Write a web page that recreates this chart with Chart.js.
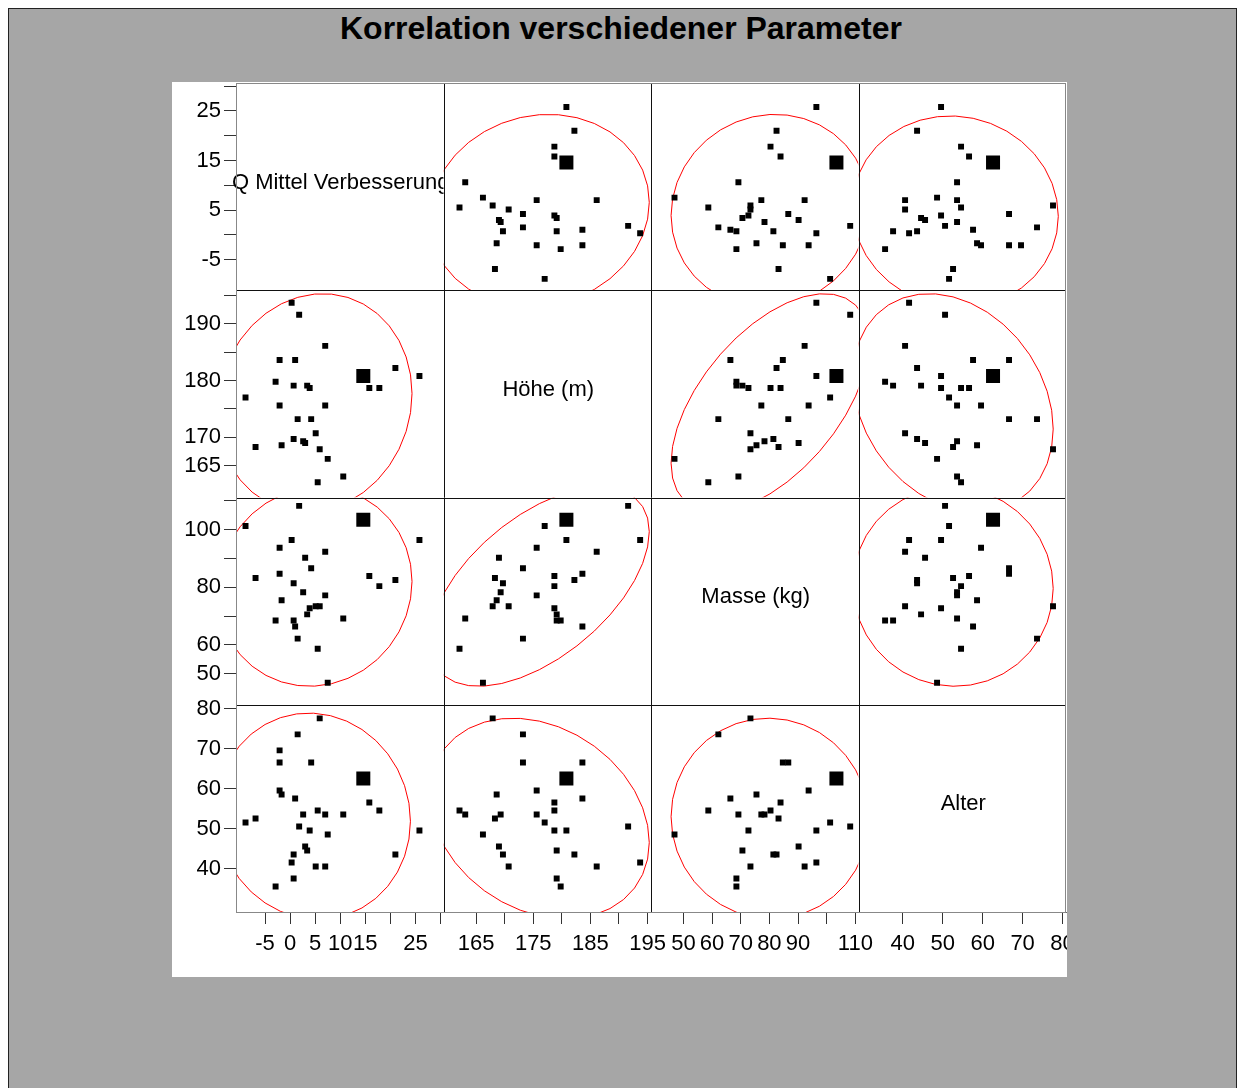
<!DOCTYPE html>
<html>
<head>
<meta charset="utf-8">
<title>Korrelation verschiedener Parameter</title>
<script src="https://cdn.jsdelivr.net/npm/chart.js@4.4.1/dist/chart.umd.min.js"></script>
<style>
  body { margin: 0; background: #fff; width: 1242px; height: 1088px; overflow: hidden; position: relative; }
  #frame { position: absolute; left: 8px; top: 8px; width: 1227px; height: 1100px; background: #a6a6a6;
           border-left: 1px solid #222; border-top: 1px solid #222; border-right: 1px solid #222; }
  #title { position: absolute; left: 0; top: 12px; width: 1242px; text-align: center;
           font: bold 32px "Liberation Sans", Arial, sans-serif; line-height: 32px; color: #000; }
  #plot { position: absolute; left: 172px; top: 82px; width: 895px; height: 895px; background: #fff; }
</style>
</head>
<body>
<div id="frame"></div>
<div id="title">Korrelation verschiedener Parameter</div>
<div id="plot"><canvas id="matrix" width="895" height="895"></canvas></div>
<script>
// variable names (diagonal)
const varNames = ["Q Mittel Verbesserung", "Höhe (m)", "Masse (kg)", "Alter"];

const qMittel = [5.9, 1.5, -2.1, -2.1, 4.2, 14.6, -2.1, -1.7, 1.0, 15.8, 17.8, 5.5, 2.6, 7.0, 10.6,
                 -6.9, -8.9, 1.8, 25.8, 3.9, 7.5, 3.0, 3.4, 0.7, 21.0, 0.3, 5.1, 7.0, 0.7, -2.9];
const hoehe = [167.9, 173.2, null, 183.6, 173.2, 180.8, 175.6, 168.6, 183.6, 178.7, 178.7, 162.1, 169.3, 175.6, 163.1,
               168.3, 177.0, 191.6, 180.8, 178.7, 166.2, 169.0, 179.1, 169.7, 182.2, 193.7, 170.7, 186.1, 179.1, 179.8];
const masse = [73.4, 62.2, null, 84.7, 86.6, 103.4, 93.7, 75.5, 66.4, 83.9, 80.4, 58.7, 78.3, 77.2, 69.2,
               83.2, 101.2, 108.2, 96.4, 72.7, 46.9, 90.2, 70.6, 81.4, 82.5, 96.4, 73.4, 92.3, 68.5, 68.5];
const alter = [77.6, 73.6, 69.6, 66.6, 66.6, 62.6, 59.6, 58.6, 57.6, 56.6, 54.6, 54.6, 53.6, 53.6, 53.6,
               52.6, 51.6, 50.6, 49.6, 49.6, 48.6, 45.6, 44.6, 43.6, 43.6, 41.6, 40.6, 40.6, 37.6, 35.6];
const highlightIndex = 5; // the large marker

// ticks
const qTicks = [-5, 0, 5, 10, 15, 20, 25, 30];
const qLabelsX = ["-5", "0", "5", "10", "15", "", "25", ""];
const qLabelsY = ["-5", "", "5", "", "15", "", "25", ""];
const hTicks = [165, 170, 175, 180, 185, 190, 195];
const hLabelsX = ["165", "", "175", "", "185", "", "195"];
const hLabelsY = ["165", "170", "", "180", "", "190", ""];
const mTicks = [50, 60, 70, 80, 90, 100, 110];
const mLabelsX = ["50", "60", "70", "80", "90", "", "110"];
const mLabelsY = ["50", "60", "", "80", "", "100", ""];
const aTicks = [40, 50, 60, 70, 80];
const aLabelsX = ["40", "50", "60", "70", "80"];
const aLabelsY = ["40", "50", "60", "70", "80"];

const columns = [qMittel, hoehe, masse, alter];
const tickValues = [qTicks, hTicks, mTicks, aTicks];
const labelsX = [qLabelsX, hLabelsX, mLabelsX, aLabelsX];
const labelsY = [qLabelsY, hLabelsY, mLabelsY, aLabelsY];
const xRanges = [[-10.8, 30.6], [159.3, 195.6], [38.7, 111.1], [28.95, 80.85]];
const yRanges = [[-11.2, 30.65], [159.4, 195.9], [39.3, 111.1], [29.25, 81.0]];

Chart.defaults.font.family = '"Liberation Sans", Arial, sans-serif';
Chart.defaults.color = "#000";

// 95% normal ellipse from the pairs that are both present
function ellipsePoints(xs, ys) {
  const px = [], py = [];
  for (let i = 0; i < xs.length; i++) {
    if (xs[i] != null && ys[i] != null) { px.push(xs[i]); py.push(ys[i]); }
  }
  const n = px.length;
  const mx = px.reduce((a, b) => a + b, 0) / n;
  const my = py.reduce((a, b) => a + b, 0) / n;
  let sxx = 0, syy = 0, sxy = 0;
  for (let i = 0; i < n; i++) {
    sxx += (px[i] - mx) ** 2; syy += (py[i] - my) ** 2; sxy += (px[i] - mx) * (py[i] - my);
  }
  sxx /= n - 1; syy /= n - 1; sxy /= n - 1;
  const k = Math.sqrt(5.991);
  const a = Math.sqrt(sxx), b = sxy / a, c = Math.sqrt(Math.max(syy - b * b, 0));
  const pts = [];
  const steps = 36;
  for (let j = 0; j <= steps; j++) {
    const t = 2 * Math.PI * j / steps;
    pts.push({ x: mx + k * a * Math.cos(t), y: my + k * (b * Math.cos(t) + c * Math.sin(t)) });
  }
  return pts;
}

const datasets = [];
for (let r = 0; r < 4; r++) {
  for (let c = 0; c < 4; c++) {
    if (r === c) continue;
    const small = [], big = [];
    for (let i = 0; i < alter.length; i++) {
      const xv = columns[c][i], yv = columns[r][i];
      if (xv == null || yv == null) continue;
      (i === highlightIndex ? big : small).push({ x: xv, y: yv });
    }
    const ids = { xAxisID: "x" + c, yAxisID: "y" + r };
    datasets.push({ ...ids, data: big, pointStyle: "rect", pointRadius: 9.9, pointBorderWidth: 0,
                    backgroundColor: "#000", borderColor: "#000" });
    datasets.push({ ...ids, data: small, pointStyle: "rect", pointRadius: 4.2, pointBorderWidth: 0,
                    backgroundColor: "#000", borderColor: "#000" });
    datasets.push({ ...ids, data: ellipsePoints(columns[c], columns[r]), showLine: true, pointRadius: 0,
                    borderColor: "#ff0000", borderWidth: 1, fill: false, tension: 0 });
  }
}

const scales = {};
for (let c = 0; c < 4; c++) {
  scales["x" + c] = {
    type: "linear", axis: "x", position: "bottom", stack: "cols", stackWeight: 1,
    min: xRanges[c][0], max: xRanges[c][1],
    afterBuildTicks: s => { s.ticks = tickValues[c].map(v => ({ value: v })); },
    afterFit: s => { s.height = 65; s.paddingLeft = 0; s.paddingRight = 0; },
    ticks: { autoSkip: false, maxRotation: 0, minRotation: 0, padding: 7, font: { size: 22 },
             callback: v => labelsX[c][tickValues[c].indexOf(v)] },
    grid: { drawOnChartArea: false, tickLength: 12, color: "#333" },
    border: { color: "#666" }
  };
}
for (let r = 0; r < 4; r++) {
  scales["y" + r] = {
    type: "linear", axis: "y", position: "left", stack: "rows", stackWeight: 1, weight: 4 - r,
    min: yRanges[r][0], max: yRanges[r][1],
    afterBuildTicks: s => { s.ticks = tickValues[r].map(v => ({ value: v })); },
    afterFit: s => { s.width = 64; s.paddingTop = 0; s.paddingBottom = 0; },
    ticks: { autoSkip: false, padding: 3, font: { size: 22 },
             callback: v => labelsY[r][tickValues[r].indexOf(v)] },
    grid: { drawOnChartArea: false, tickLength: 12, color: "#333" },
    border: { color: "#666" }
  };
}

// keep each dataset inside its own panel
const panelClip = {
  id: "panelClip",
  beforeDatasetDraw(chart, args) {
    const m = args.meta, ctx = chart.ctx;
    ctx.save();
    ctx.beginPath();
    ctx.rect(m.xScale.left, m.yScale.top, m.xScale.width, m.yScale.height);
    ctx.clip();
  },
  afterDatasetDraw(chart) { chart.ctx.restore(); }
};

// diagonal names and panel frame
const matrixFrame = {
  id: "matrixFrame",
  afterDatasetsDraw(chart) {
    const ctx = chart.ctx, area = chart.chartArea;
    ctx.save();
    ctx.font = '22px "Liberation Sans", Arial, sans-serif';
    ctx.fillStyle = "#000";
    ctx.textAlign = "center";
    ctx.textBaseline = "middle";
    for (let i = 0; i < 4; i++) {
      const xs = chart.scales["x" + i], ys = chart.scales["y" + i];
      ctx.save();
      ctx.beginPath();
      ctx.rect(0, ys.top, xs.right, ys.bottom - ys.top);
      ctx.clip();
      ctx.fillText(varNames[i], (xs.left + xs.right) / 2 + 1, (ys.top + ys.bottom) / 2 - 4);
      ctx.restore();
    }
    ctx.strokeStyle = "#111";
    ctx.lineWidth = 1;
    ctx.beginPath();
    for (let i = 1; i < 4; i++) {
      const x = Math.round(chart.scales["x" + i].left) + 0.5;
      ctx.moveTo(x, area.top); ctx.lineTo(x, area.bottom);
      const y = Math.round(chart.scales["y" + i].top) + 0.5;
      ctx.moveTo(area.left, y); ctx.lineTo(area.right, y);
    }
    ctx.stroke();
    ctx.strokeStyle = "#888";
    ctx.strokeRect(Math.round(area.left) + 0.5, Math.round(area.top) + 0.5,
                   Math.round(area.right - area.left) - 1, Math.round(area.bottom - area.top));
    ctx.restore();
  }
};

new Chart(document.getElementById("matrix").getContext("2d"), {
  type: "scatter",
  data: { datasets: datasets },
  options: {
    responsive: false,
    animation: false,
    layout: { autoPadding: false, padding: { left: 0, top: 1, right: 1, bottom: 0 } },
    plugins: { legend: { display: false }, tooltip: { enabled: false } },
    scales: scales
  },
  plugins: [panelClip, matrixFrame]
});
</script>
</body>
</html>
